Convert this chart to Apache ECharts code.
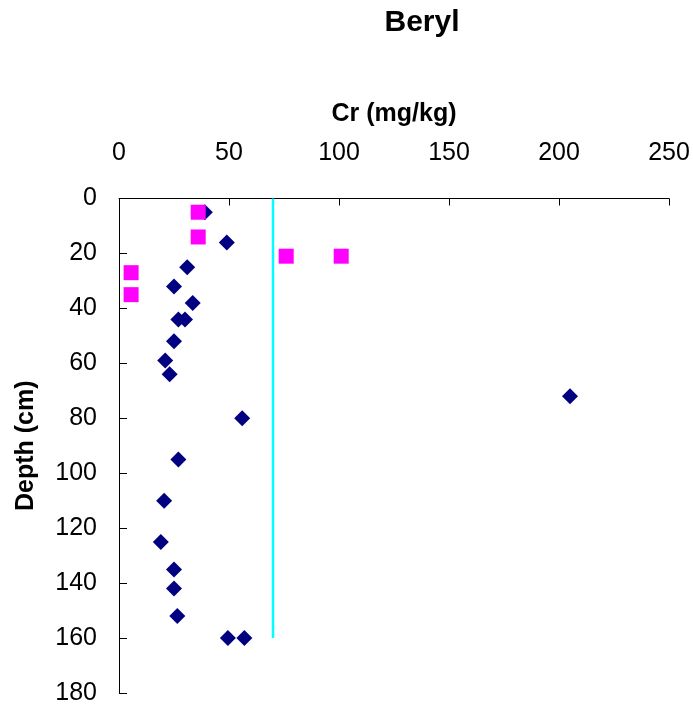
<!DOCTYPE html>
<html>
<head>
<meta charset="utf-8">
<script src="https://cdn.jsdelivr.net/npm/echarts@6/dist/echarts.min.js"></script>
<style>
html,body{margin:0;padding:0;background:#fff;}
#chart{width:693px;height:709px;}
</style>
</head>
<body>
<div id="chart"></div>
<script>
// Navy diamonds: Cr (mg/kg) and depth (cm)
const diamondCr    = [39, 49, 31, 25, 33.5, 27, 30, 25, 21, 23, 205, 56, 27, 20.5, 19, 25, 25, 26.5, 49.5, 57];
const diamondDepth = [5, 16, 25, 32, 38, 44, 44, 52, 59, 64, 72, 80, 95, 110, 125, 135, 142, 152, 160, 160];
// Magenta squares
const squareCr    = [36, 36, 76, 101, 5.5, 5.5];
const squareDepth = [5, 14, 21, 21, 27, 35];
// Cyan guideline
const lineCr    = [70, 70];
const lineDepth = [0, 160];
// Axis settings
const xMin = 0, xMax = 250, xStep = 50;
const yMin = 0, yMax = 180, yStep = 20;

const zip = (a, b) => a.map((v, i) => [v, b[i]]);
const font = 'Liberation Sans, Arial, sans-serif';

const chart = echarts.init(document.getElementById('chart'), null, {renderer: 'canvas'});
chart.setOption({
  animation: false,
  backgroundColor: '#fff',
  title: {
    text: 'Beryl',
    left: 417, top: 3,
    textAlign: 'center',
    textStyle: {fontFamily: font, fontSize: 30, fontWeight: 'bold', color: '#000'}
  },
  grid: {left: 119, top: 198.5, width: 550, height: 494.5, containLabel: false},
  xAxis: {
    type: 'value', position: 'top',
    min: xMin, max: xMax, interval: xStep,
    name: 'Cr (mg/kg)', nameLocation: 'middle', nameGap: 72,
    nameTextStyle: {fontFamily: font, fontSize: 25, fontWeight: 'bold', color: '#000'},
    axisLine: {show: true, lineStyle: {color: '#000', width: 1}},
    axisTick: {show: true, inside: true, length: 7, lineStyle: {color: '#000'}},
    axisLabel: {fontFamily: font, fontSize: 25, color: '#000', margin: 33},
    splitLine: {show: false}
  },
  yAxis: {
    type: 'value', inverse: true,
    min: yMin, max: yMax, interval: yStep,
    name: 'Depth (cm)', nameLocation: 'middle', nameGap: 80, nameRotate: 90,
    nameTextStyle: {fontFamily: font, fontSize: 25, fontWeight: 'bold', color: '#000'},
    axisLine: {show: true, lineStyle: {color: '#000', width: 1}},
    axisTick: {show: true, inside: true, length: 8, lineStyle: {color: '#000'}},
    axisLabel: {fontFamily: font, fontSize: 25, color: '#000', margin: 22},
    splitLine: {show: false}
  },
  series: [
    {
      type: 'line', data: zip(lineCr, lineDepth), symbol: 'none',
      lineStyle: {color: '#00FFFF', width: 2.5}, z: 1
    },
    {
      type: 'scatter', data: zip(diamondCr, diamondDepth),
      symbol: 'diamond', symbolSize: [16, 16],
      itemStyle: {color: '#000080', opacity: 1}, z: 2
    },
    {
      type: 'scatter', data: zip(squareCr, squareDepth),
      symbol: 'rect', symbolSize: 15,
      itemStyle: {color: '#FF00FF', opacity: 1}, z: 3
    }
  ]
});
</script>
</body>
</html>
